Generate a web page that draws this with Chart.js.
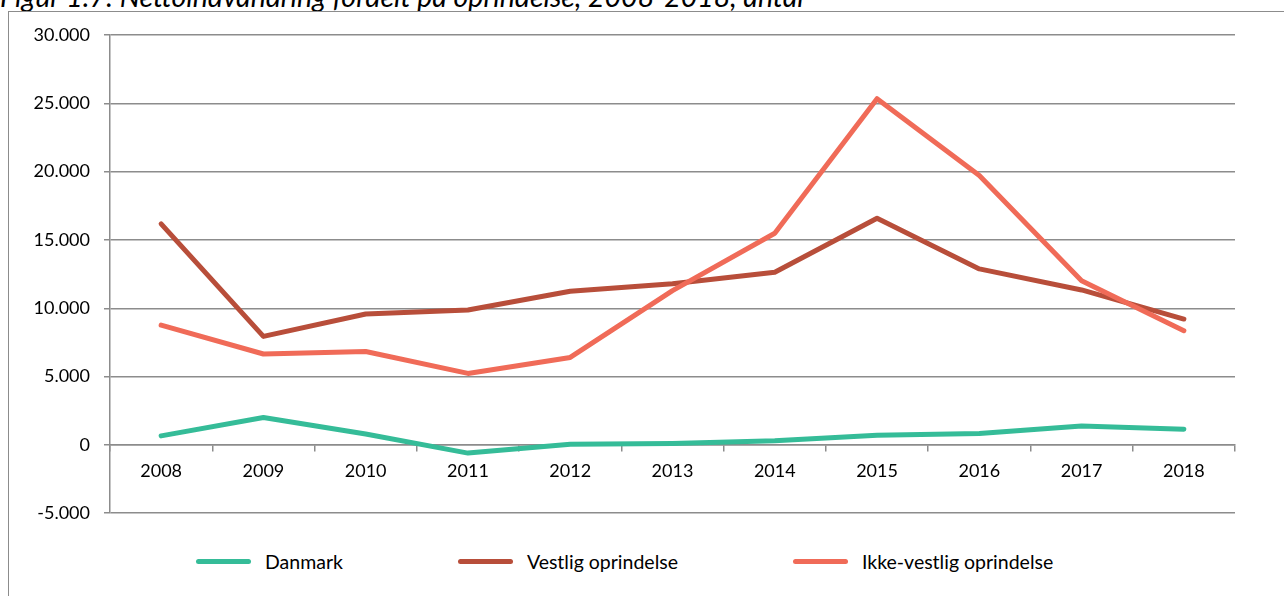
<!DOCTYPE html>
<html>
<head>
<meta charset="utf-8">
<script src="https://cdn.jsdelivr.net/npm/chart.js@4"></script>
<style>
  html, body { margin: 0; padding: 0; background: #fff; overflow: hidden; }
  body { width: 1284px; height: 596px; position: relative; font-family: Lato, sans-serif; }
  #title { position: absolute; left: 0; top: -18px; font-size: 28.5px; line-height: 28px; font-style: italic; color: #000; white-space: nowrap; }
  #frame { position: absolute; left: 8px; top: 11px; width: 1320px; height: 640px; border: 1.5px solid #8c8c8c; }
  #chart { position: absolute; left: 0; top: 0; }
  #legend { position: absolute; left: 196px; top: 550px; display: flex; align-items: center; font-size: 19.5px; color: #000; }
  .item { display: flex; align-items: center; margin-right: 115px; }
  .swatch { width: 55px; height: 5px; border-radius: 3px; margin-right: 14px; }
</style>
</head>
<body>
<div id="title">Figur 1.7: Nettoindvandring fordelt på oprindelse, 2008-2018, antal</div>
<div id="frame"></div>
<canvas id="chart" width="1284" height="538"></canvas>
<div id="legend"></div>
<script>
const years = ['2008', '2009', '2010', '2011', '2012', '2013', '2014', '2015', '2016', '2017', '2018'];
const danmark = [660, 2000, 800, -600, 50, 100, 300, 700, 830, 1390, 1150];
const vestlig = [16180, 7940, 9580, 9870, 11240, 11800, 12630, 16590, 12880, 11340, 9210];
const ikkeVestlig = [8770, 6650, 6840, 5230, 6400, 11290, 15490, 25340, 19720, 12020, 8360];
const seriesNames = ['Danmark', 'Vestlig oprindelse', 'Ikke-vestlig oprindelse'];
const seriesColors = ['#35bc98', '#b84e3a', '#f06b58'];
const yTicks = [-5000, 0, 5000, 10000, 15000, 20000, 25000, 30000];

const gridColor = '#8c8c8c';

function formatDa(v) {
    const s = Math.abs(v).toString().replace(/\B(?=(\d{3})+(?!\d))/g, '.');
    return (v < 0 ? '-' : '') + s;
}

const values = [danmark, vestlig, ikkeVestlig];
const drawOrder = [2, 1, 0];

const datasets = values.map((data, i) => ({
    label: seriesNames[i],
    data: data,
    borderColor: seriesColors[i],
    backgroundColor: seriesColors[i],
    borderWidth: 5,
    borderCapStyle: 'round',
    borderJoinStyle: 'round',
    pointRadius: 0,
    tension: 0,
    fill: false,
    order: drawOrder[i]
}));

// legend as html, built from the same arrays
const legendEl = document.getElementById('legend');
seriesNames.forEach((name, i) => {
    const item = document.createElement('div');
    item.className = 'item';
    const sw = document.createElement('div');
    sw.className = 'swatch';
    sw.style.background = seriesColors[i];
    const txt = document.createElement('span');
    txt.textContent = name;
    item.appendChild(sw);
    item.appendChild(txt);
    legendEl.appendChild(item);
});

const ctx = document.getElementById('chart').getContext('2d');
new Chart(ctx, {
    type: 'line',
    data: { labels: years, datasets: datasets },
    options: {
        responsive: false,
        animation: false,
        layout: { padding: { left: 0, top: 35, right: 49, bottom: 18 } },
        plugins: {
            legend: { display: false },
            tooltip: { enabled: false }
        },
        scales: {
            x: {
                position: { y: 0 },
                offset: true,
                grid: {
                    offset: true,
                    drawOnChartArea: false,
                    drawTicks: true,
                    tickLength: 6,
                    color: gridColor,
                    lineWidth: 1.5
                },
                border: { display: true, color: gridColor, width: 1.5 },
                ticks: {
                    padding: 10,
                    color: '#000',
                    font: { family: 'Lato', size: 18 },
                    maxRotation: 0
                }
            },
            y: {
                min: -5000,
                max: 30000,
                afterBuildTicks: scale => {
                    scale.ticks = yTicks.map(v => ({ value: v }));
                },
                afterFit: scale => { scale.width = 110; },
                grid: {
                    color: gridColor,
                    lineWidth: 1.5,
                    tickLength: 6
                },
                border: { display: true, color: gridColor, width: 1.5 },
                ticks: {
                    padding: 14,
                    color: '#000',
                    font: { family: 'Lato', size: 18 },
                    callback: v => formatDa(v)
                }
            }
        }
    }
});
</script>
</body>
</html>
